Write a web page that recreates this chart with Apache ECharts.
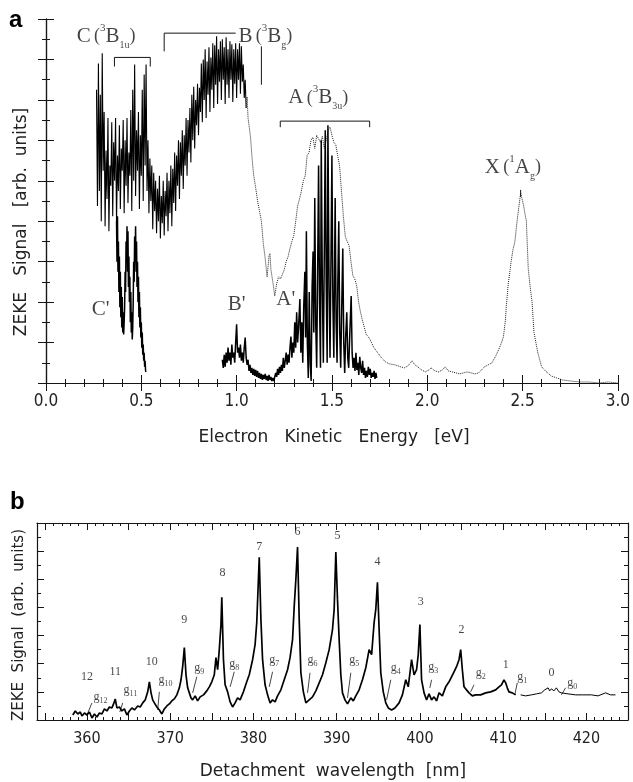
<!DOCTYPE html>
<html lang="en">
<head>
<meta charset="UTF-8">
<title>ZEKE spectra</title>
<script src="https://cdn.jsdelivr.net/npm/echarts@6/dist/echarts.min.js"></script>
<style>
  html, body { margin: 0; padding: 0; background: #fff; }
  #main { width: 633px; height: 782px; }
</style>
</head>
<body>
<div id="main"></div>
<script>
// ---- panel a : signal vs electron kinetic energy (eV) ----
// photoelectron spectrum, dense noisy part (C and B bands)
var pesDense = [
  [0.265,290],[0.270,175],[0.275,316],[0.280,190],[0.285,285],[0.290,160],[0.295,326],[0.300,210],[0.305,268],[0.310,155],
  [0.315,230],[0.320,182],[0.325,262],[0.330,150],[0.335,215],[0.340,195],[0.345,258],[0.350,165],[0.355,238],[0.360,200],
  [0.365,262],[0.370,158],[0.375,225],[0.380,190],[0.385,255],[0.390,172],[0.395,232],[0.400,210],[0.405,260],[0.410,168],
  [0.415,240],[0.420,195],[0.425,262],[0.430,178],[0.435,228],[0.440,205],[0.445,270],[0.450,170],[0.455,290],[0.460,200],
  [0.465,315],[0.470,185],[0.475,250],[0.480,210],[0.485,268],[0.490,172],[0.495,245],[0.500,205],[0.505,290],[0.510,180],
  [0.515,305],[0.520,215],[0.525,315],[0.530,190],[0.535,240],[0.540,168],[0.545,222],[0.550,180],[0.555,215],[0.560,152],
  [0.565,208],[0.570,170],[0.575,200],[0.580,148],[0.585,192],[0.590,160],[0.595,205],[0.600,143],[0.605,185],[0.610,158],
  [0.615,200],[0.620,146],[0.625,190],[0.630,165],[0.635,208],[0.640,150],[0.645,200],[0.650,168],[0.655,215],[0.660,155],
  [0.665,212],[0.670,178],[0.675,228],[0.680,170],[0.685,225],[0.690,195],[0.695,240],[0.700,182],[0.705,238],[0.710,205],
  [0.715,250],[0.720,192],[0.725,245],[0.730,215],[0.735,262],[0.740,205],[0.745,260],[0.750,228],[0.755,272],[0.760,218],
  [0.765,285],[0.770,240],[0.775,293],[0.780,232],[0.785,280],[0.790,255],[0.795,296],[0.800,245],[0.805,292],[0.810,268],
  [0.815,316],[0.820,258],[0.825,320],[0.830,280],[0.835,330],[0.840,262],[0.845,318],[0.850,285],[0.855,332],[0.860,268],
  [0.865,322],[0.870,290],[0.875,336],[0.880,272],[0.885,334],[0.890,295],[0.895,343],[0.900,276],[0.905,330],[0.910,298],
  [0.915,338],[0.920,280],[0.925,340],[0.930,300],[0.935,332],[0.940,276],[0.945,342],[0.950,295],[0.955,330],[0.960,282],
  [0.965,338],[0.970,300],[0.975,335],[0.980,278],[0.985,330],[0.990,296],[0.995,336],[1.000,282],[1.005,330],[1.010,300],
  [1.015,336],[1.020,286],[1.025,333],[1.030,298],[1.035,315],[1.040,282],[1.045,300],[1.050,272]
];
// photoelectron spectrum, remaining part, drawn dotted
var pesData = [
  [1.050,272],[1.055,283],[1.060,262],
  [1.065,255],[1.073,243],[1.080,225],[1.089,206],[1.100,193],[1.110,180],[1.120,170],[1.130,160],[1.140,138],[1.150,123],
  [1.160,105],[1.165,115],[1.170,126],[1.175,128],[1.180,112],[1.190,100],[1.200,86],[1.210,98],[1.220,105],[1.230,103],
  [1.240,104],[1.250,112],[1.260,120],[1.270,125],[1.280,133],[1.290,140],[1.300,146],[1.310,160],[1.320,175],[1.330,182],
  [1.340,190],[1.350,200],[1.360,205],[1.370,225],[1.380,228],[1.390,240],[1.400,243],[1.410,232],[1.420,245],[1.430,246],
  [1.440,238],[1.450,244],[1.460,232],[1.470,240],[1.480,250],[1.490,253],[1.500,245],[1.510,238],[1.520,236],[1.530,225],
  [1.540,215],[1.550,190],[1.560,165],[1.570,145],[1.580,140],[1.590,136],[1.600,120],[1.610,106],[1.620,103],[1.630,96],
  [1.640,80],[1.650,70],[1.660,62],[1.670,55],[1.680,48],[1.690,46],[1.700,43],[1.720,35],[1.740,30],[1.760,25],
  [1.780,21],[1.800,19],[1.830,18],[1.860,16],[1.880,15],[1.900,17],[1.920,22],[1.935,18],[1.950,16],[1.970,13],
  [1.990,11],[2.010,13],[2.020,15],[2.040,12],[2.060,11],[2.080,13],[2.095,16],[2.110,12],[2.130,11],[2.150,10],
  [2.170,9],[2.190,10],[2.210,11],[2.230,10],[2.250,9],[2.270,10],[2.290,14],[2.300,16],[2.320,18],[2.340,20],
  [2.360,27],[2.375,33],[2.390,40],[2.400,46],[2.410,62],[2.415,76],[2.425,98],[2.435,112],[2.440,120],[2.450,132],
  [2.460,140],[2.470,158],[2.480,173],[2.490,188],[2.500,180],[2.505,176],[2.515,165],[2.520,160],[2.530,113],[2.540,95],
  [2.550,80],[2.560,50],[2.580,30],[2.600,16],[2.620,12],[2.650,7],[2.680,5],[2.710,3],[2.750,2],[2.800,1],
  [2.850,1],[2.900,0],[2.950,1],[3.000,0]
];

// ZEKE trace, C' band
var zekeC = [
  [0.370,160],[0.3725,120],[0.375,165],[0.3775,110],[0.380,140],[0.3825,90],[0.385,125],[0.3875,75],[0.390,110],[0.3925,65],
  [0.395,95],[0.3975,55],[0.400,85],[0.4025,50],[0.405,70],[0.4075,48],[0.410,60],[0.4125,75],[0.415,110],[0.4175,90],
  [0.420,140],[0.4225,120],[0.425,155],[0.4275,110],[0.430,150],[0.4325,95],[0.435,125],[0.4375,80],[0.440,105],[0.4425,60],
  [0.445,90],[0.4475,50],[0.450,70],[0.4525,43],[0.455,55],[0.4575,80],[0.460,120],[0.4625,100],[0.465,145],[0.4675,120],
  [0.470,155],[0.4725,110],[0.475,140],[0.4775,95],[0.480,120],[0.4825,80],[0.485,105],[0.4875,65],[0.490,90],[0.4925,55],
  [0.495,75],[0.4975,45],[0.500,60],[0.5025,35],[0.505,50],[0.5075,28],[0.510,38],[0.5125,22],[0.515,30],[0.5175,16],
  [0.520,22],[0.5225,12],[0.525,11]
];

// ZEKE trace, B' and A' bands
var zekeBA = [
  [0.925,23],[0.930,15],[0.935,28],[0.940,16],[0.945,30],[0.950,20],[0.955,35],[0.960,22],[0.965,30],[0.970,18],
  [0.975,38],[0.980,25],[0.985,30],[0.990,20],[0.995,40],[1.000,58],[1.005,30],[1.010,35],[1.015,25],[1.020,38],
  [1.025,22],[1.030,30],[1.035,20],[1.040,35],[1.045,45],[1.050,25],[1.055,18],[1.060,23],[1.065,12],[1.070,18],
  [1.075,10],[1.080,15],[1.085,8],[1.090,14],[1.095,7],[1.100,13],[1.105,6],[1.110,12],[1.115,5],[1.120,10],
  [1.125,4],[1.130,9],[1.135,3],[1.140,8],[1.145,4],[1.150,9],[1.155,3],[1.160,7],[1.165,2],[1.170,8],
  [1.175,3],[1.180,6],[1.185,2],[1.190,5],[1.195,2],[1.200,3],[1.205,10],[1.210,6],[1.215,14],[1.220,8],
  [1.225,16],[1.230,10],[1.235,18],[1.240,12],[1.245,25],[1.250,15],[1.255,22],[1.260,30],[1.265,18],[1.270,28],
  [1.275,20],[1.280,35],[1.285,46],[1.290,25],[1.295,40],[1.300,30],[1.305,60],[1.310,35],[1.315,70],[1.320,40],
  [1.325,55],[1.332,83],[1.337,30],[1.342,60],[1.347,20],[1.352,75],[1.358,110],[1.362,45],[1.366,150],[1.371,40],
  [1.376,5],[1.381,90],[1.386,20],[1.391,2],[1.396,95],[1.401,130],[1.405,50],[1.410,183],[1.415,60],[1.420,15],
  [1.425,110],[1.430,215],[1.435,80],[1.440,15],[1.444,240],[1.450,90],[1.455,20],[1.460,130],[1.465,250],[1.470,100],
  [1.475,20],[1.479,255],[1.485,95],[1.490,25],[1.495,120],[1.500,225],[1.505,80],[1.510,25],[1.517,183],[1.522,60],
  [1.527,20],[1.531,100],[1.536,160],[1.541,50],[1.546,15],[1.551,70],[1.557,133],[1.562,40],[1.567,10],[1.572,45],
  [1.578,70],[1.583,25],[1.588,15],[1.594,50],[1.601,86],[1.606,30],[1.611,15],[1.616,25],[1.621,12],[1.626,30],
  [1.631,13],[1.636,20],[1.641,8],[1.646,26],[1.651,15],[1.656,10],[1.661,22],[1.666,8],[1.671,15],[1.676,5],
  [1.681,12],[1.686,6],[1.691,16],[1.696,8],[1.701,14],[1.706,5],[1.711,10],[1.716,6],[1.721,12],[1.726,4],
  [1.731,10],[1.735,5]
];

// band brackets and the marker above the X peak
var bracketsA = [
  [[0.359,313],[0.359,322],[0.547,322],[0.547,313]],
  [[0.620,328],[0.620,346],[0.995,346]],
  [[1.130,333],[1.130,295]],
  [[1.229,253],[1.229,259],[1.698,259],[1.698,253]],
  [[2.490,184],[2.490,191]]
];

// state labels: [energy, signal, text]
var labelsA = [
  [0.161, 343, '{m|C} {p|(}{s|3}{m|B}{b|1u}{p|)}'],
  [1.010, 343, '{m|B} {p|(}{s|3}{m|B}{b|g}{p|)}'],
  [1.271, 282, '{m|A} {p|(}{s|3}{m|B}{b|3u}{p|)}'],
  [2.302, 213, '{m|X} {p|(}{s|1}{m|A}{b|g}{p|)}'],
  [0.240, 73, "{m|C'}"],
  [0.953, 78, "{m|B'}"],
  [1.208, 83, "{m|A'}"]
];

// ---- panel b : signal vs detachment wavelength (nm) ----
var bTrace = [
  [358.3,5],[358.6,9],[358.9,6],[359.2,8],[359.4,4],[359.7,7],[360.0,5],[360.3,8],[360.6,2],[360.9,6],
  [361.2,3],[361.5,7],[361.8,6],[362.1,11],[362.4,9],[362.7,13],[363.0,12],[363.2,16],[363.4,21],[363.6,12],
  [363.9,13],[364.2,9],[364.5,11],[364.8,5],[365.1,9],[365.4,12],[365.7,10],[366.1,14],[366.4,13],[366.7,17],
  [367.0,20],[367.3,28],[367.5,38],[367.7,27],[367.9,20],[368.1,17],[368.4,13],[368.7,10],[369.0,6],[369.3,11],
  [369.6,14],[369.9,16],[370.2,19],[370.5,21],[370.8,25],[371.1,32],[371.3,40],[371.5,53],[371.7,72],[371.9,45],
  [372.1,32],[372.3,27],[372.5,22],[372.7,20],[373.0,24],[373.3,19],[373.6,23],[374.0,25],[374.4,29],[374.7,33],
  [375.0,38],[375.3,45],[375.5,62],[375.7,50],[375.9,70],[376.1,95],[376.2,122],[376.4,60],[376.6,35],[376.9,28],
  [377.2,18],[377.5,13],[377.8,17],[378.1,22],[378.4,20],[378.8,28],[379.2,38],[379.5,45],[379.9,60],[380.2,75],
  [380.4,97],[380.6,140],[380.7,162],[380.9,100],[381.1,60],[381.4,35],[381.7,25],[382.0,17],[382.3,20],[382.6,18],
  [382.9,24],[383.3,30],[383.7,40],[384.1,50],[384.4,62],[384.7,80],[384.9,113],[385.1,140],[385.3,172],[385.5,100],
  [385.7,47],[386.0,28],[386.3,17],[386.7,20],[387.1,23],[387.5,29],[387.9,37],[388.3,45],[388.7,57],[389.1,70],
  [389.5,90],[389.7,110],[389.9,167],[390.1,120],[390.3,80],[390.5,45],[390.7,27],[391.0,20],[391.3,16],[391.7,22],
  [392.0,19],[392.3,24],[392.7,30],[393.1,40],[393.5,52],[393.9,70],[394.2,65],[394.5,97],[394.7,110],[394.9,137],
  [395.1,90],[395.3,47],[395.6,28],[395.9,17],[396.2,12],[396.6,10],[397.0,12],[397.5,17],[397.9,25],[398.3,40],
  [398.6,33],[399.0,60],[399.3,45],[399.6,50],[399.8,65],[400.0,95],[400.2,40],[400.5,27],[400.8,20],[401.1,26],
  [401.4,20],[401.7,23],[402.0,19],[402.3,27],[402.7,24],[403.1,33],[403.5,38],[403.8,43],[404.1,48],[404.4,53],
  [404.7,60],[404.9,70],[405.1,50],[405.3,33],[405.6,30],[405.9,27],[406.3,24],[406.7,25],[407.3,25],[407.9,27],
  [408.5,28],[409.1,30],[409.5,33],[409.8,35],[410.1,40],[410.3,37],[410.5,32],[410.7,28],[411.1,27],[411.5,25]
];
var bTail = [
  [412.1,25],[412.7,24],[413.4,25],[414.0,26],[414.6,27],[415.0,30],[415.4,32],[415.6,29],[415.8,31],[416.1,29],
  [416.4,32],[416.7,28],[417.0,27],[417.8,26],[418.7,25],[419.5,25],[420.6,25],[421.4,24],[422.3,27],[422.9,25],
  [423.5,25]
];

// vibrational numbers over the peaks: [nm, signal, text]
var peakLabels = [
  [360.0,43,'12'],[363.4,48,'11'],[367.8,58,'10'],[371.7,100,'9'],[376.3,146,'8'],[380.7,172,'7'],[385.3,187,'6'],
  [390.1,183,'5'],[394.9,157,'4'],[400.1,118,'3'],[405.0,90,'2'],[410.3,55,'1'],[415.8,47,'0']
];
// g_n labels (left edge of the g) and their leader lines
var gLabels = [
  [360.8,23,'12'],[364.4,30,'11'],[368.6,40,'10'],[372.9,52,'9'],[377.1,56,'8'],[381.9,60,'7'],[386.5,60,'6'],
  [391.5,60,'5'],[396.5,52,'4'],[401.0,53,'3'],[406.7,47,'2'],[411.7,43,'1'],[417.7,37,'0']
];
var gLeaders = [
  [[360.6,17],[360.1,7]],[[364.3,17],[363.95,8]],[[368.7,28],[368.5,10]],[[373.2,43],[372.7,27]],
  [[377.7,48],[377.2,33]],[[382.3,48],[381.9,33]],[[386.8,47],[386.5,27]],[[391.7,47],[391.3,22]],
  [[396.5,40],[396.0,20]],[[401.4,40],[401.2,32]],[[406.5,35],[406.1,28]],[[411.7,37],[411.4,25]],
  [[417.5,32],[417.0,25]]
];

var xTicksB = [355,360,365,370,375,380,385,390,395,400,405,410,415,420,425];
var xLabelsB = [360,370,380,390,400,410,420];

var ink = '#151515';
var axisFont = 'DejaVu Sans Condensed';
var titleFont = 'DejaVu Sans';
var serif = 'Liberation Serif';

var myChart = echarts.init(document.getElementById('main'));

function frameAxis(extra) {
  var base = {
    type: 'value',
    axisLine: {show: true, lineStyle: {color: ink, width: 1.2}},
    axisTick: {show: true, inside: true, length: 8, lineStyle: {color: ink, width: 1}},
    minorTick: {show: false},
    axisLabel: {show: false},
    splitLine: {show: false},
    minorSplitLine: {show: false}
  };
  for (var k in extra) base[k] = extra[k];
  return base;
}

var richA = {
  m: {fontFamily: serif, fontSize: 21, lineHeight: 28, color: ink},
  p: {fontFamily: serif, fontSize: 18, lineHeight: 28, color: ink},
  s: {fontFamily: serif, fontSize: 11, lineHeight: 14, verticalAlign: 'top', color: ink},
  b: {fontFamily: serif, fontSize: 10, lineHeight: 12, verticalAlign: 'bottom', color: ink}
};
var richG = {
  g: {fontFamily: serif, fontSize: 12, lineHeight: 16, color: ink},
  n: {fontFamily: serif, fontSize: 8, lineHeight: 10, verticalAlign: 'bottom', color: ink}
};

var option = {
  backgroundColor: '#fff',
  animation: false,
  grid: [
    {left: 46, top: 19, width: 576, height: 364},
    {left: 37, top: 523, width: 591, height: 197}
  ],
  xAxis: [
    frameAxis({gridIndex: 0, position: 'bottom', min: 0, max: 3, interval: 0.5,
      minorTick: {show: true, splitNumber: 5, length: 4, lineStyle: {color: ink}},
      axisLabel: {show: true, margin: 10, fontFamily: axisFont, fontSize: 17, color: '#222',
        formatter: function (v) { return v.toFixed(1); }}}),
    frameAxis({gridIndex: 0, position: 'top', min: 0, max: 3, interval: 0.5,
      minorTick: {show: true, splitNumber: 5, length: 4, lineStyle: {color: ink}}}),
    frameAxis({gridIndex: 1, position: 'bottom', min: 354, max: 425,
      axisTick: {show: true, inside: true, length: 7, customValues: xTicksB, lineStyle: {color: ink}},
      axisLabel: {show: true, customValues: xLabelsB, margin: 11, fontFamily: axisFont, fontSize: 16, color: '#222'}}),
    frameAxis({gridIndex: 1, position: 'bottom', min: 354, max: 425, interval: 1,
      axisLine: {show: false}, axisTick: {show: true, inside: true, length: 3, lineStyle: {color: ink}}}),
    frameAxis({gridIndex: 1, position: 'top', min: 354, max: 425,
      axisTick: {show: true, inside: true, length: 7, customValues: xTicksB, lineStyle: {color: ink}}}),
    frameAxis({gridIndex: 1, position: 'top', min: 354, max: 425, interval: 1,
      axisLine: {show: false}, axisTick: {show: true, inside: true, length: 3, lineStyle: {color: ink}}})
  ],
  yAxis: [
    frameAxis({gridIndex: 0, position: 'left', min: 0, max: 360, interval: 40,
      minorTick: {show: true, splitNumber: 2, length: 4, lineStyle: {color: ink}}}),
    frameAxis({gridIndex: 0, position: 'right', min: 0, max: 360, interval: 40,
      minorTick: {show: true, splitNumber: 2, length: 4, lineStyle: {color: ink}}}),
    frameAxis({gridIndex: 1, position: 'left', min: 0, max: 196, interval: 28,
      axisTick: {show: true, inside: true, length: 7, lineStyle: {color: ink}},
      minorTick: {show: true, splitNumber: 2, length: 4, lineStyle: {color: ink}}}),
    frameAxis({gridIndex: 1, position: 'right', min: 0, max: 196, interval: 28,
      axisTick: {show: true, inside: true, length: 7, lineStyle: {color: ink}},
      minorTick: {show: true, splitNumber: 2, length: 4, lineStyle: {color: ink}}})
  ],
  graphic: [
    {type: 'text', x: 9, y: 8, style: {text: 'a', font: 'bold 24px Liberation Sans', fill: '#000'}},
    {type: 'text', x: 10, y: 490, style: {text: 'b', font: 'bold 24px Liberation Sans', fill: '#000'}},
    {type: 'text', x: 334, y: 438, style: {text: 'Electron   Kinetic   Energy   [eV]', font: '17px ' + titleFont,
      fill: '#222', textAlign: 'center', textVerticalAlign: 'middle'}},
    {type: 'text', x: 22, y: 222, rotation: Math.PI / 2, style: {text: 'ZEKE   Signal   [arb.  units]',
      font: '17px ' + titleFont, fill: '#222', textAlign: 'center', textVerticalAlign: 'middle'}},
    {type: 'text', x: 333, y: 772, style: {text: 'Detachment  wavelength  [nm]', font: '17px ' + titleFont,
      fill: '#222', textAlign: 'center', textVerticalAlign: 'middle'}},
    {type: 'text', x: 19, y: 625, rotation: Math.PI / 2, style: {text: 'ZEKE  Signal  (arb.  units)',
      font: '15px ' + titleFont, fill: '#222', textAlign: 'center', textVerticalAlign: 'middle'}}
  ],
  series: [
    {
      name: 'PES dense', type: 'line', xAxisIndex: 0, yAxisIndex: 0, data: pesDense,
      showSymbol: false, symbol: 'none',
      lineStyle: {width: 1.1, color: '#000'}
    },
    {
      name: 'PES', type: 'line', xAxisIndex: 0, yAxisIndex: 0, data: pesData,
      showSymbol: false, symbol: 'none',
      lineStyle: {type: 'dotted', width: 1, color: '#222'}
    },
    {
      name: 'ZEKE C', type: 'line', xAxisIndex: 0, yAxisIndex: 0, data: zekeC,
      showSymbol: false, symbol: 'none',
      lineStyle: {width: 1.5, color: '#000'}
    },
    {
      name: 'ZEKE BA', type: 'line', xAxisIndex: 0, yAxisIndex: 0, data: zekeBA,
      showSymbol: false, symbol: 'none',
      lineStyle: {width: 1.5, color: '#000'}
    },
    {
      name: 'brackets', type: 'lines', coordinateSystem: 'cartesian2d', xAxisIndex: 0, yAxisIndex: 0,
      polyline: true, silent: true,
      lineStyle: {color: ink, width: 1, opacity: 1},
      data: bracketsA.map(function (c) { return {coords: c}; })
    },
    {
      name: 'labels a', type: 'scatter', xAxisIndex: 0, yAxisIndex: 0, symbolSize: 1,
      itemStyle: {color: 'rgba(0,0,0,0)'}, silent: true,
      data: labelsA.map(function (d) { return {value: [d[0], d[1]], name: d[2]}; }),
      label: {show: true, position: 'inside', align: 'left', verticalAlign: 'middle',
        formatter: function (p) { return p.name; }, rich: richA}
    },
    {
      name: 'b trace', type: 'line', xAxisIndex: 2, yAxisIndex: 2, data: bTrace,
      showSymbol: false, symbol: 'none',
      lineStyle: {width: 1.7, color: '#000'}
    },
    {
      name: 'b tail', type: 'line', xAxisIndex: 2, yAxisIndex: 2, data: bTail,
      showSymbol: false, symbol: 'none',
      lineStyle: {width: 1, color: '#000'}
    },
    {
      name: 'leaders', type: 'lines', coordinateSystem: 'cartesian2d', xAxisIndex: 2, yAxisIndex: 2,
      silent: true, lineStyle: {color: ink, width: 0.8, opacity: 1},
      data: gLeaders.map(function (c) { return {coords: c}; })
    },
    {
      name: 'peak numbers', type: 'scatter', xAxisIndex: 2, yAxisIndex: 2, symbolSize: 1,
      itemStyle: {color: 'rgba(0,0,0,0)'}, silent: true,
      data: peakLabels.map(function (d) { return {value: [d[0], d[1]], name: d[2]}; }),
      label: {show: true, position: 'inside', align: 'center', verticalAlign: 'middle',
        fontFamily: serif, fontSize: 12, color: ink, formatter: function (p) { return p.name; }}
    },
    {
      name: 'g labels', type: 'scatter', xAxisIndex: 2, yAxisIndex: 2, symbolSize: 1,
      itemStyle: {color: 'rgba(0,0,0,0)'}, silent: true,
      data: gLabels.map(function (d) { return {value: [d[0], d[1]], name: d[2]}; }),
      label: {show: true, position: 'inside', align: 'left', verticalAlign: 'middle', rich: richG,
        formatter: function (p) { return '{g|g}{n|' + p.name + '}'; }}
    }
  ]
};

myChart.setOption(option);
</script>
</body>
</html>
